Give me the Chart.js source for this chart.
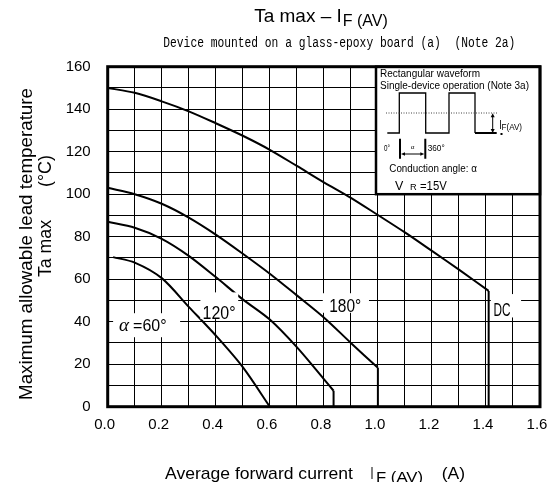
<!DOCTYPE html>
<html><head><meta charset="utf-8">
<script src="https://cdn.jsdelivr.net/npm/chart.js@4.4.1/dist/chart.umd.min.js"></script>
<style>html,body{margin:0;padding:0;background:#fff;}canvas{display:block;}</style>
</head><body>
<canvas id="c" width="547" height="482"></canvas>
<script>
// ---- data ----
const dcCurrent   = [0, 0.1, 0.2, 0.3, 0.4, 0.5, 0.6, 0.7, 0.8, 0.9, 1.0, 1.1, 1.2, 1.3, 1.41];
const dcTemp      = [150, 147.7, 143.7, 139, 133.4, 127.5, 120.9, 113.3, 105.6, 98.3, 90.2, 82, 73.3, 64.5, 54.5];
const a180Current = [0, 0.1, 0.2, 0.3, 0.4, 0.5, 0.6, 0.7, 0.8, 0.9, 1.0];
const a180Temp    = [103, 100, 95.5, 89, 81, 72, 62.6, 52.4, 42, 30, 18.3];
const a120Current = [0, 0.1, 0.2, 0.3, 0.4, 0.5, 0.6, 0.7, 0.8, 0.836];
const a120Temp    = [87, 84.2, 79, 71, 61, 50.5, 41, 28, 13, 7.5];
const a60Current  = [0.02, 0.1, 0.2, 0.3, 0.4, 0.5, 0.6];
const a60Temp     = [70.4, 67.8, 60.5, 47, 33.5, 18.6, 0];
const cutoffTemp  = 0;

const xLabelValues = [0.0, 0.2, 0.4, 0.6, 0.8, 1.0, 1.2, 1.4, 1.6];
const yLabelValues = [0, 20, 40, 60, 80, 100, 120, 140, 160];

// curve labels: box (data coords) + text centre
const curveLabels = [
  {text: '120°', box: [0.343, 0.483, 41.2, 53.8], at: [0.412, 44.6], w: 33, size: 19},
  {text: '180°', box: [0.796, 0.967, 44.2, 53.4], at: [0.879, 47.8], w: 32, size: 19},
  {text: 'DC',   box: [1.418, 1.53, 42.0, 53.0],  at: [1.459, 46.2], w: 17, size: 19}
];
const alphaLabel = {box: [0.02, 0.268, 32.7, 44.0], at: [0.02, 38.4]};

const SANS = "'Liberation Sans', Arial, sans-serif";
const MONO = "'Liberation Mono', 'DejaVu Sans Mono', monospace";

function pts(xs, ys){ return xs.map((x,i)=>({x:x, y:ys[i]})); }
function drop(xs, ys){ const n = xs.length-1; return [{x:xs[n], y:ys[n]}, {x:xs[n], y:cutoffTemp}]; }

function txt(ctx, s, x, y, font, align, width){
  ctx.save();
  ctx.font = font;
  const w = ctx.measureText(s).width;
  const sx = width ? width / w : 1;
  ctx.translate(x, y);
  ctx.scale(sx, 1);
  ctx.textAlign = align || 'left';
  ctx.textBaseline = 'alphabetic';
  ctx.fillStyle = '#000';
  ctx.fillText(s, 0, 0);
  ctx.restore();
  return w * sx;
}
function arrowHead(ctx, x, y, dx, dy, len, half){
  ctx.beginPath();
  ctx.moveTo(x, y);
  ctx.lineTo(x - dx*len - dy*half, y - dy*len + dx*half);
  ctx.lineTo(x - dx*len + dy*half, y - dy*len - dx*half);
  ctx.closePath();
  ctx.fill();
}

const deco = {
  id: 'deco',
  afterDatasetsDraw(chart){
    const ctx = chart.ctx, xs = chart.scales.x, ys = chart.scales.y, a = chart.chartArea;
    ctx.save();
    // curve labels with white background
    for (const L of curveLabels){
      const x0 = xs.getPixelForValue(L.box[0]), x1 = xs.getPixelForValue(L.box[1]);
      const y0 = ys.getPixelForValue(L.box[3]), y1 = ys.getPixelForValue(L.box[2]);
      ctx.fillStyle = '#fff';
      ctx.fillRect(x0, y0, x1-x0, y1-y0);
      const cx = xs.getPixelForValue(L.at[0]), cy = ys.getPixelForValue(L.at[1]);
      txt(ctx, L.text, cx, cy + 7, L.size + "px " + SANS, 'center', L.w);
    }
    {
      const L = alphaLabel;
      const x0 = xs.getPixelForValue(L.box[0]), x1 = xs.getPixelForValue(L.box[1]);
      const y0 = ys.getPixelForValue(L.box[3]), y1 = ys.getPixelForValue(L.box[2]);
      ctx.fillStyle = '#fff';
      ctx.fillRect(x0, y0, x1-x0, y1-y0);
      const lx = xs.getPixelForValue(L.at[0]) + 6, by = ys.getPixelForValue(L.at[1]) + 6;
      const w = txt(ctx, 'α', lx, by, "italic 18px 'Liberation Serif', serif", 'left', 10);
      txt(ctx, '=60°', lx + w + 4, by, "16px " + SANS, 'left', 33.5);
    }

    // inset box
    const bw = 164, bh = 127.5;
    const bx = a.right - bw, by = a.top;
    ctx.fillStyle = '#fff';
    ctx.fillRect(bx, by, bw, bh);
    ctx.strokeStyle = '#000';
    ctx.lineWidth = 2.5;
    ctx.strokeRect(bx, by, bw, bh);

    txt(ctx, 'Rectangular waveform', bx + 4, by + 10, "10px " + SANS, 'left', 100);
    txt(ctx, 'Single-device operation (Note 3a)', bx + 4, by + 22.5, "10px " + SANS, 'left', 149);

    // waveform
    ctx.lineWidth = 1.3;
    ctx.strokeStyle = '#000';
    const lo = by + 66.3, hi = by + 26.3;
    ctx.beginPath();
    ctx.moveTo(bx + 11.3, lo);
    ctx.lineTo(bx + 23.3, lo); ctx.lineTo(bx + 23.3, hi);
    ctx.lineTo(bx + 49.7, hi); ctx.lineTo(bx + 49.7, lo);
    ctx.lineTo(bx + 73, lo); ctx.lineTo(bx + 73, hi);
    ctx.lineTo(bx + 99, hi); ctx.lineTo(bx + 99, lo);
    ctx.stroke();
    ctx.lineWidth = 2;
    ctx.beginPath(); ctx.moveTo(bx + 99, lo); ctx.lineTo(bx + 120.7, lo); ctx.stroke();
    ctx.fillStyle = '#000';
    ctx.fillRect(bx + 124.5, lo, 2, 2);
    // dotted average line
    ctx.lineWidth = 1;
    ctx.strokeStyle = '#444';
    ctx.setLineDash([1, 1.5]);
    ctx.beginPath(); ctx.moveTo(bx + 10, by + 46.3); ctx.lineTo(bx + 121, by + 46.3); ctx.stroke();
    ctx.setLineDash([]);
    // vertical double arrow
    ctx.strokeStyle = '#000';
    ctx.beginPath(); ctx.moveTo(bx + 116.7, by + 49); ctx.lineTo(bx + 116.7, lo - 3); ctx.stroke();
    arrowHead(ctx, bx + 116.7, by + 46.5, 0, -1, 4, 2);
    arrowHead(ctx, bx + 116.7, lo, 0, 1, 4, 2);
    // IF(AV)
    txt(ctx, 'I', bx + 123.3, by + 62.3, "13px " + SANS, 'left', 2.5);
    txt(ctx, 'F(AV)', bx + 125.5, by + 62.8, "8.5px " + SANS, 'left', 20.5);

    // angle marks
    txt(ctx, '0°', bx + 8, by + 84.7, "9.5px " + SANS, 'left', 6);
    ctx.lineWidth = 2;
    ctx.beginPath();
    ctx.moveTo(bx + 24, by + 72); ctx.lineTo(bx + 24, by + 92);
    ctx.moveTo(bx + 49.3, by + 72); ctx.lineTo(bx + 49.3, by + 92);
    ctx.stroke();
    ctx.lineWidth = 1;
    ctx.beginPath(); ctx.moveTo(bx + 28, by + 87.3); ctx.lineTo(bx + 45.3, by + 87.3); ctx.stroke();
    arrowHead(ctx, bx + 25, by + 87.3, -1, 0, 4, 1.8);
    arrowHead(ctx, bx + 48.3, by + 87.3, 1, 0, 4, 1.8);
    txt(ctx, 'α', bx + 36.5, by + 82, "7px 'Liberation Serif', serif", 'center');
    txt(ctx, '360°', bx + 51.7, by + 84.7, "9.5px " + SANS, 'left', 17);

    txt(ctx, 'Conduction angle: α', bx + 13.3, by + 105.7, "10px " + SANS, 'left', 87.5);
    txt(ctx, 'V', bx + 19, by + 123, "12.5px " + SANS, 'left', 8.3);
    txt(ctx, 'R', bx + 34, by + 123, "9.5px " + SANS, 'left', 6.7);
    txt(ctx, '=15V', bx + 44, by + 123, "12px " + SANS, 'left', 26.7);
    ctx.restore();
  },
  afterDraw(chart){
    const ctx = chart.ctx, a = chart.chartArea;
    ctx.save();
    // plot frame
    ctx.strokeStyle = '#000';
    ctx.lineWidth = 3;
    ctx.strokeRect(a.left, a.top, a.right - a.left, a.bottom - a.top);

    // title
    ctx.font = "19px " + SANS;
    const t1 = 'Ta max – I';
    const w1 = ctx.measureText(t1).width;
    ctx.font = "16px " + SANS;
    const w2 = ctx.measureText('F (AV)').width;
    const tx = 321 - (w1 + 1 + w2) / 2;
    txt(ctx, t1, tx, 21.7, "19px " + SANS, 'left');
    txt(ctx, 'F (AV)', tx + w1 + 1, 26, "16px " + SANS, 'left');

    // subtitle
    txt(ctx, 'Device mounted on a glass-epoxy board (a)  (Note 2a)', 163.3, 46.7, "14px " + MONO, 'left', 352);

    // x-axis title
    txt(ctx, 'Average forward current', 165, 479, "17px " + SANS, 'left', 188);
    txt(ctx, 'I', 370.5, 479, "17px " + SANS, 'left', 3);
    txt(ctx, 'F (AV)', 376, 481.5, "14px " + SANS, 'left', 47);
    txt(ctx, '(A)', 441.7, 479, "17px " + SANS, 'left', 23.3);

    // y-axis title (rotated)
    ctx.save();
    ctx.translate(32.3, 244);
    ctx.rotate(-Math.PI / 2);
    txt(ctx, 'Maximum allowable lead temperature', 0, 0, "18.5px " + SANS, 'center', 312);
    ctx.restore();
    ctx.save();
    ctx.translate(51, 248.5);
    ctx.rotate(-Math.PI / 2);
    txt(ctx, 'Ta max', 0, 0, "18px " + SANS, 'center', 57);
    ctx.restore();
    ctx.save();
    ctx.translate(51, 171);
    ctx.rotate(-Math.PI / 2);
    txt(ctx, '(°C)', 0, 0, "18px " + SANS, 'center', 32);
    ctx.restore();
    ctx.restore();
  }
};

const lineStyle = {borderColor: '#000', borderWidth: 2, pointRadius: 0, fill: false, showLine: true};

new Chart(document.getElementById('c'), {
  type: 'scatter',
  data: {
    datasets: [
      Object.assign({label: 'DC',   data: pts(dcCurrent, dcTemp),     tension: 0.3}, lineStyle),
      Object.assign({label: 'DC cutoff', data: drop(dcCurrent, dcTemp), tension: 0}, lineStyle),
      Object.assign({label: '180°', data: pts(a180Current, a180Temp), tension: 0.3}, lineStyle),
      Object.assign({label: '180° cutoff', data: drop(a180Current, a180Temp), tension: 0}, lineStyle),
      Object.assign({label: '120°', data: pts(a120Current, a120Temp), tension: 0.3}, lineStyle),
      Object.assign({label: '120° cutoff', data: drop(a120Current, a120Temp), tension: 0}, lineStyle),
      Object.assign({label: '60°',  data: pts(a60Current, a60Temp),   tension: 0.3}, lineStyle)
    ]
  },
  options: {
    responsive: false,
    animation: false,
    devicePixelRatio: 1,
    layout: {padding: {left: 0, right: 7, top: 66.7, bottom: 0}},
    plugins: {legend: {display: false}, tooltip: {enabled: false}, title: {display: false}},
    scales: {
      x: {
        type: 'linear', min: 0, max: 1.6,
        border: {display: false},
        grid: {color: '#000', lineWidth: 1, drawTicks: false},
        ticks: {
          stepSize: 0.1, autoSkip: false, maxRotation: 0, padding: 9, labelOffset: -3,
          color: '#000', font: {family: SANS, size: 15},
          callback: (v) => { const r = Math.round(v * 10) / 10; return xLabelValues.some(l => Math.abs(l - r) < 1e-6) ? r.toFixed(1) : ''; }
        },
        afterFit: (s) => { s.height = 75.3; s.paddingLeft = 0; s.paddingRight = 0; }
      },
      y: {
        type: 'linear', min: 0, max: 160,
        border: {display: false},
        grid: {color: '#000', lineWidth: 1, drawTicks: false},
        ticks: {
          stepSize: 10, autoSkip: false, padding: 17,
          color: '#000', font: {family: SANS, size: 15},
          callback: (v) => yLabelValues.includes(v) ? String(v) : ''
        },
        afterFit: (s) => { s.width = 107.7; s.paddingTop = 0; s.paddingBottom = 0; }
      }
    }
  },
  plugins: [deco]
});
</script>
</body></html>
